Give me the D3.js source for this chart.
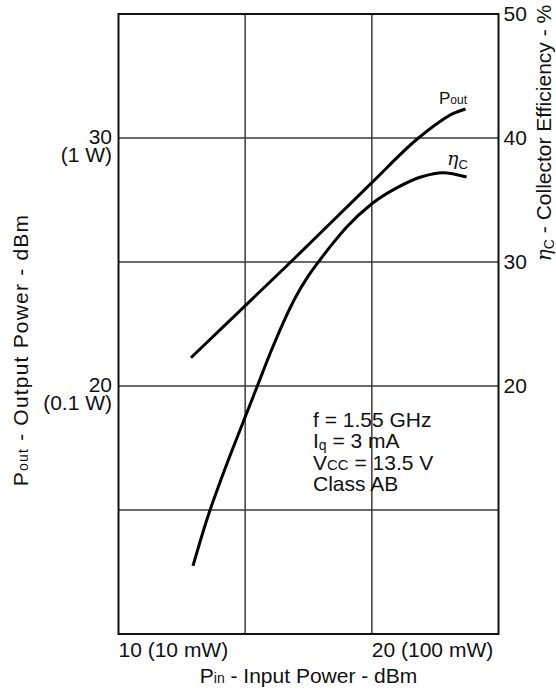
<!DOCTYPE html>
<html>
<head>
<meta charset="utf-8">
<script src="https://cdn.jsdelivr.net/npm/d3@7/dist/d3.min.js"></script>
<style>
  html, body { margin: 0; padding: 0; background: #fff; }
  svg { display: block; font-family: "Liberation Sans", Arial, Helvetica, sans-serif; }
</style>
</head>
<body>
<svg id="chart" width="556" height="692"></svg>
<script>
// ---- data ----
const poutPin = [12.86, 16.8, 20.0, 21.78, 22.68, 23.2, 23.7];
const poutDbm = [21.14, 25.0, 28.2, 29.95, 30.66, 30.98, 31.17];
const effPin = [12.94, 13.5, 14, 14.5, 15, 15.5, 16, 16.5, 17, 17.5, 18, 18.5, 19, 20, 21, 22, 22.8, 23.74];
const effPct = [5.5, 9.3, 12.2, 14.9, 17.5, 20.1, 22.7, 25.1, 27.2, 28.9, 30.3, 31.6, 32.8, 34.7, 36.0, 36.9, 37.2, 36.85];
const xGrid = [15, 20];
const yLeftGrid = [15, 20, 25, 30];
const xTickLabels = [{v: 10, t: "10 (10 mW)"}, {v: 20, t: "20 (100 mW)"}];
const yLeftLabels = [{v: 30, a: "30", b: "(1 W)"}, {v: 20, a: "20", b: "(0.1 W)"}];
const yRightTicks = [20, 30, 40, 50];
const conditions = ["f = 1.55 GHz", "Iq = 3 mA", "VCC = 13.5 V", "Class AB"];

// ---- scales ----
const pLeft = 118.5, pRight = 498.5, pTop = 14, pBottom = 634;
const x = d3.scaleLinear().domain([10, 25]).range([pLeft, pRight]);
const yL = d3.scaleLinear().domain([10, 35]).range([pBottom, pTop]);
const yR = d3.scaleLinear().domain([0, 50]).range([pBottom, pTop]);

const svg = d3.select("#chart");
const FS = 21;

// grid lines
svg.append("g").selectAll("line").data(xGrid).join("line")
  .attr("x1", d => x(d)).attr("x2", d => x(d))
  .attr("y1", pTop).attr("y2", pBottom)
  .attr("stroke", "#3a3a3a").attr("stroke-width", 1.5);
svg.append("g").selectAll("line").data(yLeftGrid).join("line")
  .attr("x1", pLeft).attr("x2", pRight)
  .attr("y1", d => yL(d)).attr("y2", d => yL(d))
  .attr("stroke", "#3a3a3a").attr("stroke-width", 1.5);

// frame
svg.append("rect").attr("x", pLeft).attr("y", pTop)
  .attr("width", pRight - pLeft).attr("height", pBottom - pTop)
  .attr("fill", "none").attr("stroke", "#111").attr("stroke-width", 2);

// curves
const lineP = d3.line().x(d => x(d[0])).y(d => yL(d[1])).curve(d3.curveMonotoneX);
const lineE = d3.line().x(d => x(d[0])).y(d => yR(d[1])).curve(d3.curveMonotoneX);
svg.append("path").attr("d", lineP(poutPin.map((p, i) => [p, poutDbm[i]])))
  .attr("fill", "none").attr("stroke", "#000").attr("stroke-width", 3);
svg.append("path").attr("d", lineE(effPin.map((p, i) => [p, effPct[i]])))
  .attr("fill", "none").attr("stroke", "#000").attr("stroke-width", 3);

// x tick labels (left-aligned at tick)
svg.append("g").selectAll("text").data(xTickLabels).join("text")
  .attr("x", d => x(d.v)).attr("y", 657)
  .attr("font-size", FS).attr("fill", "#111")
  .text(d => d.t);

// x axis title
const xt = svg.append("text").attr("x", (pLeft + pRight) / 2).attr("y", 683)
  .attr("text-anchor", "middle").attr("font-size", FS).attr("fill", "#111");
xt.append("tspan").text("P");
xt.append("tspan").attr("font-size", 14).text("in");
xt.append("tspan").text(" - Input Power - dBm");

// left labels (two lines in one text)
const ll = svg.append("g").selectAll("text").data(yLeftLabels).join("text")
  .attr("y", d => yL(d.v) + 6)
  .attr("text-anchor", "end").attr("font-size", FS).attr("fill", "#111");
ll.append("tspan").attr("x", 112).text(d => d.a);
ll.append("tspan").attr("x", 112).attr("dy", 18).text(d => d.b);

// right tick labels via axis
const rAxis = d3.axisRight(yR).tickValues(yRightTicks).tickSize(0).tickPadding(5);
const rg = svg.append("g").attr("transform", `translate(${pRight},0)`).call(rAxis);
rg.select(".domain").remove();
rg.selectAll("text").attr("font-size", FS).attr("fill", "#111")
  .attr("font-family", "Liberation Sans, Arial, sans-serif");

// left axis title
const lt = svg.append("text").attr("transform", "translate(28,350) rotate(-90)")
  .attr("text-anchor", "middle").attr("font-size", FS).attr("fill", "#111")
  .attr("letter-spacing", 1.2);
lt.append("tspan").text("P");
lt.append("tspan").attr("font-size", 14).text("out");
lt.append("tspan").text(" - Output Power - dBm");

// right axis title
const rt = svg.append("text").attr("transform", "translate(551,133) rotate(-90)")
  .attr("text-anchor", "middle").attr("font-size", FS).attr("fill", "#111");
rt.append("tspan").attr("font-style", "italic").attr("font-family", "DejaVu Serif, serif").attr("font-size", 20).text("η");
rt.append("tspan").attr("font-size", 14).attr("dy", 3).text("C");
rt.append("tspan").attr("dy", -3).text(" - Collector Efficiency - %");

// curve labels
const pl = svg.append("text").attr("x", 439).attr("y", 104).attr("font-size", 17).attr("fill", "#111");
pl.append("tspan").text("P");
pl.append("tspan").attr("font-size", 12).text("out");
const el = svg.append("text").attr("x", 447).attr("y", 165).attr("font-size", 19).attr("fill", "#111");
el.append("tspan").attr("font-style", "italic").attr("font-family", "DejaVu Serif, serif").text("η");
el.append("tspan").attr("font-size", 13).attr("dy", 4).text("C");

// conditions text (one text block, four lines)
const ct = svg.append("text").attr("x", 313).attr("y", 426.5).attr("font-size", FS).attr("fill", "#111");
ct.append("tspan").attr("x", 313).text(conditions[0]);
ct.append("tspan").attr("x", 313).attr("dy", 21.5).text("I");
ct.append("tspan").attr("font-size", 14).attr("dy", 2).text("q");
ct.append("tspan").attr("dy", -2).text(" = 3 mA");
ct.append("tspan").attr("x", 313).attr("dy", 21.5).text("V");
ct.append("tspan").attr("font-size", 15).text("CC");
ct.append("tspan").text(" = 13.5 V");
ct.append("tspan").attr("x", 313).attr("dy", 21.5).text(conditions[3]);
</script>
</body>
</html>
